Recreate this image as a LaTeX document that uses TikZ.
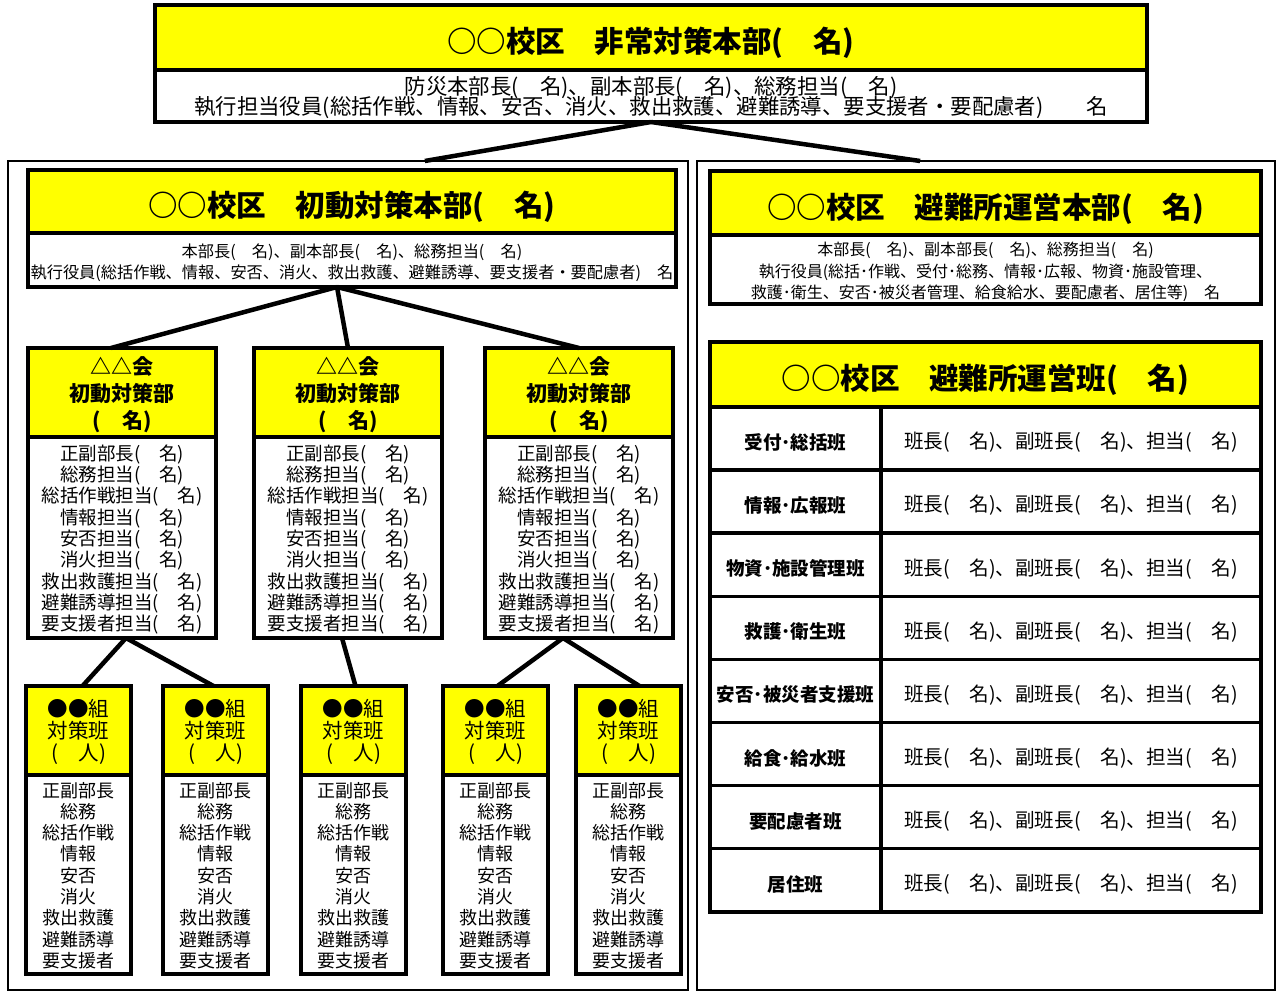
\documentclass[tikz,border=0pt]{standalone}
\usepackage{fontspec}
\setmainfont{Noto Sans CJK JP}
\usetikzlibrary{calc}
\definecolor{boxyellow}{RGB}{255,255,0}
\begin{document}
\begin{tikzpicture}[x=1pt,y=-1pt,
  bx/.style={draw, line width=3.5pt, inner sep=0pt, outer sep=0pt, anchor=north west},
  yel/.style={bx, fill=boxyellow},
  wht/.style={bx, fill=white},
  tx/.style={inner sep=0pt, outer sep=0pt, align=center},
  panel/.style={draw, line width=2.5pt, inner sep=0pt, outer sep=0pt, anchor=north west},
  conn/.style={line width=4.5pt},
  ttl/.style={tx, font=\bfseries\fontsize{29.5}{32}\selectfont},
]
\useasboundingbox (0,0) rectangle (1276,992);

% panels
\node[panel, minimum width=680pt, minimum height=829pt] (lp) at (8,161) {};
\node[panel, minimum width=578pt, minimum height=829pt] (rp) at (697,161) {};

% top HQ
\node[wht, minimum width=992pt, minimum height=52pt] (topb) at (155,70) {};
\node[tx, font={\fontsize{21.4}{20.5}\selectfont\lineskiplimit=-30pt}] (topbT) at ($(topb.center)+(0,1.5)$)
  {防災本部長(　名)、副本部長(　名)、総務担当(　名)\\執行担当役員(総括作戦、情報、安否、消火、救出救護、避難誘導、要支援者・要配慮者)　　名};
\node[yel, minimum width=992pt, minimum height=65pt] (top) at (155,5) {};
\node[ttl] (topT) at ($(top.center)+(0,5)$) {○○校区　非常対策本部(　名)};

\draw[conn] (topb.south) -- ($(lp.north west)!0.613!(lp.north east)$);
\draw[conn] (topb.south) -- ($(rp.north west)!0.386!(rp.north east)$);

% initial HQ
\node[wht, minimum width=648pt, minimum height=54pt] (ihqb) at (28,233) {};
\node[tx, font={\fontsize{16.2}{21}\selectfont\lineskiplimit=-30pt}] (ihqbT) at ($(ihqb.center)+(0,3)$)
  {本部長(　名)、副本部長(　名)、総務担当(　名)\\執行役員(総括作戦、情報、安否、消火、救出救護、避難誘導、要支援者・要配慮者)　名};
\node[yel, minimum width=648pt, minimum height=63pt] (ihq) at (28,170) {};
\node[ttl] (ihqT) at ($(ihq.center)+(0,5.5)$) {○○校区　初動対策本部(　名)};

% evacuation HQ
\node[wht, minimum width=551pt, minimum height=69pt] (ehqb) at (710,235) {};
\node[tx, font={\fontsize{16}{21.5}\selectfont\lineskiplimit=-30pt}] (ehqbT) at ($(ehqb.center)+(0,2.5)$)
  {本部長(　名)、副本部長(　名)、総務担当(　名)\\執行役員(総括･作戦、受付･総務、情報･広報、物資･施設管理、\\救護･衛生、安否･被災者管理、給食給水、要配慮者、居住等)　名};
\node[yel, minimum width=551pt, minimum height=64pt] (ehq) at (710,171) {};
\node[ttl] (ehqT) at ($(ehq.center)+(0,5.5)$) {○○校区　避難所運営本部(　名)};

% triangle-association boxes
\foreach \n/\x in {1/28, 2/254, 3/485} {
  \node[wht, minimum width=188pt, minimum height=201pt] (d\n b) at (\x,437) {};
  \node[tx, font={\fontsize{18.5}{21.3}\selectfont\lineskiplimit=-30pt}] (d\n bT) at ($(d\n b.center)+(0,2)$)
    {正副部長(　名)\\総務担当(　名)\\総括作戦担当(　名)\\情報担当(　名)\\安否担当(　名)\\消火担当(　名)\\救出救護担当(　名)\\避難誘導担当(　名)\\要支援者担当(　名)};
  \node[yel, minimum width=188pt, minimum height=89pt] (d\n) at (\x,348) {};
  \node[tx, font={\bfseries\fontsize{21}{27}\selectfont\lineskiplimit=-30pt}] (d\n T) at ($(d\n.center)+(0,2.5)$)
    {△△会\\初動対策部\\(　名)};
}

% group boxes
\foreach \n/\x in {1/26, 2/163, 3/301, 4/443, 5/576} {
  \node[wht, minimum width=105pt, minimum height=199pt] (g\n b) at (\x,775) {};
  \node[tx, font={\fontsize{18}{21.3}\selectfont\lineskiplimit=-30pt}] (g\n bT) at ($(g\n b.center)+(0,1)$)
    {正副部長\\総務\\総括作戦\\情報\\安否\\消火\\救出救護\\避難誘導\\要支援者};
  \node[yel, minimum width=105pt, minimum height=89pt] (g\n) at (\x,686) {};
  \node[tx, font={\fontsize{20.5}{22}\selectfont\lineskiplimit=-30pt}] (g\n T) at ($(g\n.center)+(0,1.5)$)
    {●●組\\対策班\\(　人)};
}

% connectors initial HQ -> associations
\coordinate (ia) at ($(ihqb.south)+(-15,0)$);
\draw[conn] (ia) -- ($(d1.north)+(-11,0)$);
\draw[conn] (ia) -- (d2.north);
\draw[conn] (ia) -- (d3.north);

% associations -> groups
\draw[conn] ($(d1b.south)+(4,0)$) -- ($(g1.north)+(4,0)$);
\draw[conn] ($(d1b.south)+(4,0)$) -- ($(g2.north)+(-2,0)$);
\draw[conn] ($(d2b.south)+(-6,0)$) -- ($(g3.north)+(2,0)$);
\draw[conn] ($(d3b.south)+(-16,0)$) -- ($(g4.north)+(2,0)$);
\draw[conn] ($(d3b.south)+(-16,0)$) -- ($(g5.north)+(11,0)$);

% shelter operation team table
\node[yel, minimum width=551pt, minimum height=65pt] (st) at (710,342) {};
\node[ttl] (stT) at ($(st.center)+(0,5)$) {○○校区　避難所運営班(　名)};
\foreach \i/\lab in {0/受付･総括班, 1/情報･広報班, 2/物資･施設管理班, 3/救護･衛生班, 4/安否･被災者支援班, 5/給食･給水班, 6/要配慮者班, 7/居住班} {
  \node[wht, minimum width=171pt, minimum height=63.1pt] (r\i l) at (710,{407+63.1*\i}) {};
  \node[tx, font=\bfseries\fontsize{18.5}{20}\selectfont] (r\i lT) at ($(r\i l.center)+(0,4)$) {\lab};
  \node[wht, minimum width=380pt, minimum height=63.1pt] (r\i c) at (881,{407+63.1*\i}) {};
  \node[tx, font=\fontsize{19.6}{20}\selectfont] (r\i cT) at ($(r\i c.center)+(0,4)$) {班長(　名)、副班長(　名)、担当(　名)};
}
\end{tikzpicture}
\end{document}
